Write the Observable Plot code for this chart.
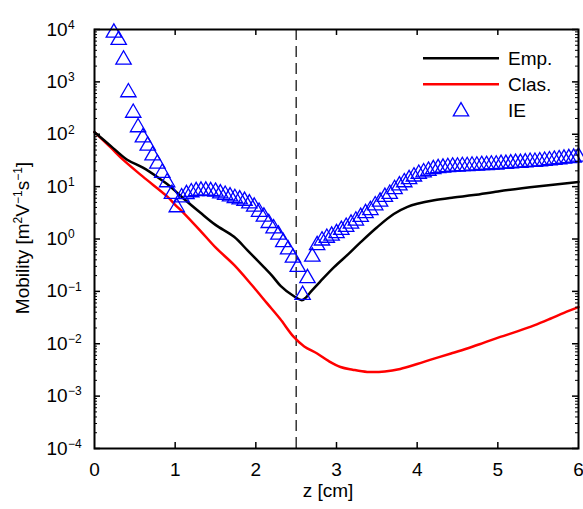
<!DOCTYPE html>
<html><head><meta charset="utf-8">
<script src="https://cdn.jsdelivr.net/npm/d3@7"></script>
<script src="https://cdn.jsdelivr.net/npm/@observablehq/plot@0.6"></script>
<style>body{margin:0;background:#fff;}</style>
</head><body><div id="chart"></div>
<script>
// ---- data ----
const zTicks = [0, 1, 2, 3, 4, 5, 6];
const yTicks = [1e-4, 1e-3, 1e-2, 1e-1, 1, 1e1, 1e2, 1e3, 1e4];
const yExpLabels = ["\u22124", "\u22123", "\u22122", "\u22121", "0", "1", "2", "3", "4"];
const legendLabels = ["Emp.", "Clas.", "IE"];
const dashZ = [2.5];

const empZ = [0,0.2,0.4,0.6,0.8,0.9,1.0,1.1,1.31,1.5,1.73,1.9,2.1,2.2,2.31,2.45,2.57,2.62,2.68,2.8,2.97,3.15,3.3,3.5,3.71,3.88,4.0,4.21,4.45,4.7,5.0,5.3,5.6,6.0];
const empMu = [110,60,33,23,14.5,11.2,8.3,6.0,3.2,1.86,1.10,0.60,0.29,0.20,0.126,0.085,0.068,0.076,0.098,0.155,0.29,0.52,0.87,1.66,3.0,4.1,4.7,5.5,6.2,6.9,8.1,9.3,10.5,12.3];

const clasZ = [0,0.2,0.36,0.6,0.9,1.0,1.1,1.31,1.5,1.73,1.95,2.14,2.3,2.47,2.6,2.76,2.9,3.05,3.2,3.38,3.6,3.79,4.0,4.21,4.42,4.62,4.83,5.03,5.25,5.45,5.65,5.82,6.0];
const clasMu = [110,56,32,15.5,6.5,4.5,3.2,1.45,0.69,0.32,0.132,0.059,0.030,0.0135,0.0089,0.0065,0.0047,0.0036,0.0032,0.0029,0.00295,0.0033,0.0041,0.0052,0.0065,0.0081,0.0105,0.0135,0.0174,0.0224,0.030,0.039,0.050];

const ieZ = [0.24,0.30,0.36,0.42,0.48,0.54,0.60,0.66,0.72,0.78,
0.84,0.90,0.96,1.02,1.08,1.14,1.20,1.26,1.32,1.38,
1.44,1.50,1.56,1.62,1.68,1.74,1.80,1.86,1.92,1.98,
2.04,2.10,2.16,2.22,2.28,2.34,2.40,2.46,2.52,2.58,
2.64,2.70,2.76,2.82,2.88,2.94,3.00,3.06,3.12,3.18,
3.24,3.30,3.36,3.42,3.48,3.54,3.60,3.66,3.72,3.78,
3.84,3.90,3.96,4.02,4.08,4.14,4.20,4.26,4.32,4.38,
4.44,4.50,4.56,4.62,4.68,4.74,4.80,4.86,4.92,4.98,
5.04,5.10,5.16,5.22,5.28,5.34,5.40,5.46,5.52,5.58,
5.64,5.70,5.76,5.82,5.88,5.94,6.00];
const ieMu = [9500,6900,2900,690,280,148,95,66,43,30,
20,13.2,7.9,4.4,6.8,7.8,8.5,8.9,9.1,9.1,
8.9,8.7,8.1,7.6,7.1,6.6,6.2,5.8,5.2,4.5,
3.6,2.9,2.2,1.74,1.32,0.95,0.69,0.48,0.32,0.093,
0.195,0.50,0.83,1.02,1.15,1.26,1.41,1.62,1.86,2.14,
2.45,2.88,3.39,3.89,4.79,5.62,6.92,7.94,9.77,11.5,
13.2,15.1,17.0,19.1,20.4,21.9,23.4,24.5,25.1,25.7,
26.3,26.3,26.9,26.9,27.5,27.5,28.2,28.2,28.8,28.8,
29.5,29.5,30.2,30.9,30.9,31.6,32.4,32.4,33.1,33.9,
34.7,35.5,36.3,37.2,38.0,38.9,40.7];

// ---- layout ----
const W = 583, H = 509, mL = 94, mR = 5, mT = 29, mB = 61;
const pw = W - mL - mR, ph = H - mT - mB;
const FONT = "'Liberation Sans', Arial, Helvetica, sans-serif";
const BLUE = "#0000ff", RED = "#ff0000";

const emp = empZ.map((z, i) => ({z, mu: empMu[i]}));
const clas = clasZ.map((z, i) => ({z, mu: clasMu[i]}));
const ie = ieZ.map((z, i) => ({z, mu: ieMu[i]}));
const minor = d3.scaleLog().domain([1e-4, 1e4]).ticks()
  .filter(v => Math.abs(Math.log10(v) - Math.round(Math.log10(v))) > 1e-6);
const innerZ = zTicks.slice(1, -1);

const chart = Plot.plot({
  width: W, height: H,
  marginLeft: mL, marginRight: mR, marginTop: mT, marginBottom: mB,
  style: {fontFamily: FONT, background: "white", color: "black"},
  x: {domain: [0, 6]},
  y: {type: "log", domain: [1e-4, 1e4], axis: null},
  marks: [
    Plot.ruleX(dashZ, {stroke: "black", strokeWidth: 1.2, strokeDasharray: "11,6"}),
    Plot.line(clas, {x: "z", y: "mu", stroke: RED, strokeWidth: 2.5, curve: "catmull-rom"}),
    Plot.line(emp, {x: "z", y: "mu", stroke: "black", strokeWidth: 2.5, curve: "catmull-rom"}),
    Plot.dot(ie, {x: "z", y: "mu", symbol: "triangle", r: 5.7, stroke: BLUE, strokeWidth: 1.3, fill: "none", dy: 2}),
    // inward ticks
    Plot.ruleX(innerZ, {insetTop: ph - 6, stroke: "black", strokeWidth: 1.5}),
    Plot.ruleX(innerZ, {insetBottom: ph - 6, stroke: "black", strokeWidth: 1.5}),
    Plot.ruleY(yTicks, {insetRight: pw - 6, stroke: "black", strokeWidth: 1.5}),
    Plot.ruleY(yTicks, {insetLeft: pw - 6, stroke: "black", strokeWidth: 1.5}),
    Plot.ruleY(minor, {insetRight: pw - 3, stroke: "black", strokeWidth: 1}),
    Plot.ruleY(minor, {insetLeft: pw - 3, stroke: "black", strokeWidth: 1}),
    Plot.frame({stroke: "black", strokeWidth: 2}),
    Plot.axisX({ticks: zTicks, tickSize: 0, tickPadding: 14, fontSize: 19, label: null, tickFormat: d => String(d)}),
    Plot.text(yTicks, {y: d => d, frameAnchor: "left", dx: -48, text: () => "10", textAnchor: "start", fontSize: 19}),
    Plot.text(yTicks, {y: d => d, frameAnchor: "left", dx: -26.5, dy: -4.5, text: (d, i) => yExpLabels[i], textAnchor: "start", fontSize: 12})
  ]
});
document.getElementById("chart").appendChild(chart);

// ---- axis titles and legend ----
const svg = d3.select(chart);
svg.append("text").attr("x", 328).attr("y", 497).attr("text-anchor", "middle")
  .attr("font-family", FONT).attr("font-size", 19).attr("fill", "black").text("z [cm]");

const yl = svg.append("text").attr("transform", "translate(28.5,238) rotate(-90)")
  .attr("text-anchor", "middle").attr("font-family", FONT).attr("font-size", 19).attr("fill", "black");
yl.append("tspan").text("Mobility [m");
yl.append("tspan").attr("font-size", 12).attr("dy", -7).text("2");
yl.append("tspan").attr("dy", 7).text("V");
yl.append("tspan").attr("font-size", 12).attr("dy", -7).text("\u22121");
yl.append("tspan").attr("dy", 7).text("s");
yl.append("tspan").attr("font-size", 12).attr("dy", -7).text("\u22121");
yl.append("tspan").attr("dy", 7).text("]");

const leg = svg.append("g").attr("font-family", FONT).attr("font-size", 19).attr("text-anchor", "start");
const legY = [58.3, 84.3, 109.5];
leg.append("line").attr("x1", 423).attr("x2", 499).attr("y1", legY[0]).attr("y2", legY[0]).attr("stroke", "black").attr("stroke-width", 2.5);
leg.append("line").attr("x1", 423).attr("x2", 499).attr("y1", legY[1]).attr("y2", legY[1]).attr("stroke", RED).attr("stroke-width", 2.5);
leg.append("path").attr("d", d3.symbol(d3.symbolTriangle, Math.PI * 5.7 * 5.7)())
  .attr("transform", `translate(461,${legY[2] + 2})`).attr("fill", "none").attr("stroke", BLUE).attr("stroke-width", 1.3);
legendLabels.forEach((t, i) => {
  leg.append("text").attr("x", 508).attr("y", legY[i] + 7).attr("text-anchor", "start").attr("fill", "black").text(t);
});
</script>
</body></html>
